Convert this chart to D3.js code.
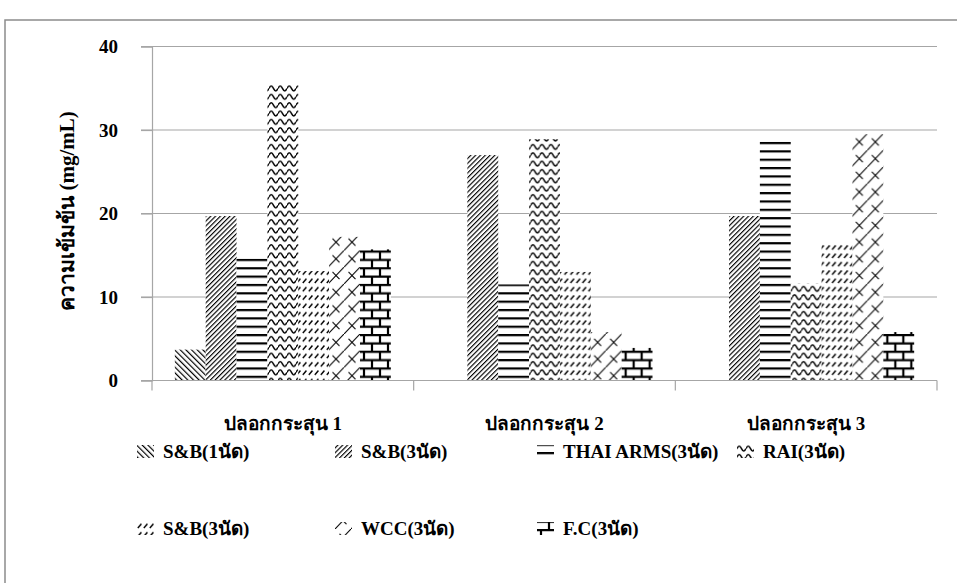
<!DOCTYPE html>
<html>
<head>
<meta charset="utf-8">
<script src="https://cdn.jsdelivr.net/npm/d3@7"></script>
<style>
  body { margin: 0; background: #fff; }
  text { font-family: "Liberation Serif", "Times New Roman", serif; font-weight: bold; fill: #000; }
</style>
</head>
<body>
<svg id="chart" width="957" height="583"></svg>
<script>
// Concentration per cartridge case, one array per ammunition series
const categories = ["ปลอกกระสุน 1", "ปลอกกระสุน 2", "ปลอกกระสุน 3"];
const seriesNames = ["S&B(1นัด)", "S&B(3นัด)", "THAI ARMS(3นัด)", "RAI(3นัด)", "S&B(3นัด)", "WCC(3นัด)", "F.C(3นัด)"];
const sb1 = [3.7, 0, 0];
const sb3 = [19.7, 27.0, 19.7];
const thaiArms = [14.6, 11.5, 28.9];
const rai = [35.4, 28.9, 11.6];
const sb3b = [13.1, 13.0, 16.5];
const wcc = [17.2, 5.8, 29.5];
const fc = [15.7, 3.9, 5.8];
const yTicks = [0, 10, 20, 30, 40];
const yTitle = "ความเข้มข้น (mg/mL)";

const seriesValues = [sb1, sb3, thaiArms, rai, sb3b, wcc, fc];
const seriesIdx = d3.range(seriesNames.length);

const svg = d3.select("#chart");

// outer chart frame
svg.append("rect")
  .attr("x", 5).attr("y", 20).attr("width", 990).attr("height", 620)
  .attr("fill", "none").attr("stroke", "#8c8c8c").attr("stroke-width", 1.5);

// ---- fill patterns ----
const defs = svg.append("defs");
function pattern(id, w, h, transform) {
  const p = defs.append("pattern").attr("id", id)
    .attr("patternUnits", "userSpaceOnUse")
    .attr("width", w).attr("height", h);
  if (transform) p.attr("patternTransform", transform);
  p.append("rect").attr("width", w).attr("height", h).attr("fill", "#fff");
  return p;
}
// 0: downward diagonal
pattern("pat0", 4, 6, "rotate(-45)")
  .append("rect").attr("x", 0).attr("width", 1.2).attr("height", 6).attr("fill", "#000");
// 1: upward diagonal
pattern("pat1", 3.4, 6, "rotate(45)")
  .append("rect").attr("x", 0).attr("width", 1.15).attr("height", 6).attr("fill", "#000");
// 2: horizontal lines
pattern("pat2", 8, 8.35)
  .append("rect").attr("y", 0).attr("width", 8).attr("height", 2.2).attr("fill", "#000");
// 3: wave
pattern("pat3", 9, 8.35)
  .append("path").attr("d", "M0,5 Q2.25,0.2 4.5,5 T9,5")
  .attr("fill", "none").attr("stroke", "#000").attr("stroke-width", 1.5);
// 4: dashed upward diagonal
pattern("pat4", 6, 8.35)
  .append("path").attr("d", "M0.8,7.4 L4.4,3.2")
  .attr("stroke", "#000").attr("stroke-width", 1.5);
// 5: lattice of crosses
{
  const p = pattern("pat5", 16, 16.7);
  p.append("path").attr("d", "M0,16.7 L16,0")
    .attr("stroke", "#000").attr("stroke-width", 1.1);
  p.append("path").attr("d", "M4.5,4.7 L11.5,12")
    .attr("stroke", "#000").attr("stroke-width", 1.1);
}
// 6: brick
pattern("pat6", 16, 16.7)
  .append("path")
  .attr("d", "M0,1 H16 M0,9.35 H16 M4,1 V9.35 M12,9.35 V16.7")
  .attr("stroke", "#000").attr("stroke-width", 2.2).attr("fill", "none");

// ---- scales ----
const x0 = d3.scaleBand().domain(categories).range([152, 937]).paddingInner(0).paddingOuter(0);
const x1 = d3.scaleBand().domain(seriesIdx).range([0, x0.bandwidth()]).paddingInner(0).paddingOuter(0.74);
const y = d3.scaleLinear().domain([0, 40]).range([380.5, 46.5]);

// gridlines
svg.append("g").selectAll("line").data(yTicks.filter(d => d > 0)).join("line")
  .attr("x1", 141).attr("x2", 937)
  .attr("y1", d => y(d)).attr("y2", d => y(d))
  .attr("stroke", "#a6a6a6").attr("stroke-width", 1.2);

// y axis
const yAxis = svg.append("g").attr("transform", "translate(152,0)")
  .call(d3.axisLeft(y).tickValues(yTicks).tickSize(11).tickPadding(23).tickFormat(d3.format("d")));
yAxis.select(".domain").attr("stroke", "#a6a6a6").attr("stroke-width", 1.2);
yAxis.selectAll(".tick line").attr("stroke", "#a6a6a6").attr("stroke-width", 1.2);
yAxis.selectAll(".tick text")
  .attr("font-size", 19).attr("font-family", "Liberation Serif, serif").attr("font-weight", "bold");

// bars
const groups = svg.append("g").selectAll("g").data(categories).join("g")
  .attr("transform", d => `translate(${x0(d)},0)`);
groups.selectAll("rect")
  .data((c, ci) => seriesIdx.map(s => ({ s, v: seriesValues[s][ci] })))
  .join("rect")
  .attr("x", d => x1(d.s))
  .attr("width", x1.bandwidth())
  .attr("y", d => y(d.v))
  .attr("height", d => y(0) - y(d.v))
  .attr("fill", d => `url(#pat${d.s})`);

// x axis
const xAxis = svg.append("g").attr("transform", `translate(0,${y(0)})`);
xAxis.append("line").attr("x1", 141).attr("x2", 937).attr("y1", 0).attr("y2", 0)
  .attr("stroke", "#a6a6a6").attr("stroke-width", 1.2);
const bounds = categories.map(c => x0(c)).concat([x0(categories[categories.length - 1]) + x0.bandwidth()]);
xAxis.selectAll("line.tk").data(bounds).join("line").attr("class", "tk")
  .attr("x1", d => d).attr("x2", d => d).attr("y1", 0).attr("y2", 10)
  .attr("stroke", "#a6a6a6").attr("stroke-width", 1.2);
xAxis.selectAll("text").data(categories).join("text")
  .attr("x", d => x0(d) + x0.bandwidth() / 2)
  .attr("y", 49)
  .attr("text-anchor", "middle").attr("font-size", 19)
  .text(d => d);

// y title
svg.append("text")
  .attr("transform", "translate(74,211) rotate(-90)")
  .attr("text-anchor", "middle").attr("font-size", 21)
  .text(yTitle);

// legend
const legCols = [137, 335, 537, 737];
const legRows = [452, 529];
const leg = svg.append("g").selectAll("g").data(seriesIdx).join("g")
  .attr("transform", s => `translate(${legCols[s % 4]},${legRows[Math.floor(s / 4)]})`);
leg.append("rect").attr("x", 0).attr("y", -7).attr("width", 17).attr("height", 13)
  .attr("fill", s => `url(#pat${s})`);
leg.append("text").attr("x", 26).attr("y", 6).attr("font-size", 19)
  .text(s => seriesNames[s]);
</script>
</body>
</html>
